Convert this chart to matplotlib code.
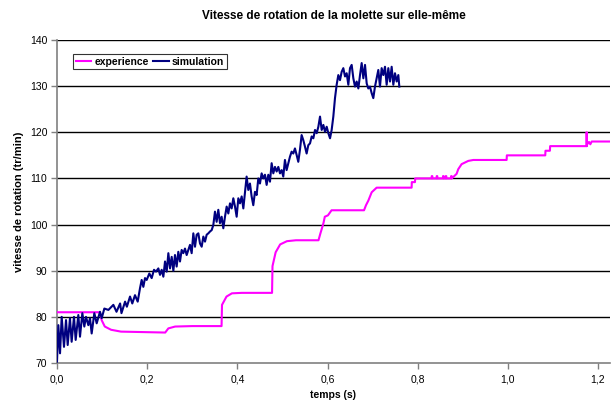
import matplotlib
matplotlib.use("Agg")
import matplotlib.pyplot as plt
from matplotlib.ticker import FixedLocator, FuncFormatter

plt.rcParams['font.family'] = ['Liberation Sans', 'DejaVu Sans']

title = "Vitesse de rotation de la molette sur elle-même"
xlabel = "temps (s)"
ylabel = "vitesse de rotation (tr/min)"
series_names = ["experience", "simulation"]

exp_t = [0.0, 0.095, 0.099, 0.106, 0.120, 0.142, 0.240, 0.247, 0.262, 0.300, 0.365,
         0.366, 0.376, 0.388, 0.410, 0.477, 0.478, 0.485, 0.495, 0.510, 0.530, 0.580,
         0.584, 0.591, 0.594, 0.601, 0.609, 0.681, 0.6854, 0.6906, 0.6943, 0.698, 0.709,
         0.7866, 0.7870, 0.794, 0.7945, 0.831, 0.8312, 0.8325, 0.8327, 0.842, 0.8422, 0.8435,
         0.8437, 0.856, 0.8562, 0.8575, 0.8577, 0.862, 0.8622, 0.8635, 0.8637, 0.874, 0.8742,
         0.8755, 0.8757, 0.8864, 0.890, 0.8975, 0.9123, 0.9234, 0.9973, 0.9978, 1.083,
         1.0835, 1.0933, 1.0938, 1.1746, 1.1748, 1.1752, 1.1760, 1.180, 1.183, 1.186, 1.2266]
exp_v = [81.0, 81.0, 79.3, 77.9, 77.2, 76.8, 76.6, 77.5, 77.9, 78.0, 78.0,
         82.6, 84.4, 85.1, 85.2, 85.2, 91.0, 94.0, 95.7, 96.4, 96.6, 96.6,
         98.0, 100.3, 101.7, 102.0, 103.1, 103.1, 104.2, 105.2, 106.1, 107.0, 108.0,
         108.0, 109.2, 109.2, 110.0, 110.0, 110.5, 110.5, 110.0, 110.0, 110.5, 110.5,
         110.0, 110.0, 110.5, 110.5, 110.0, 110.0, 110.5, 110.5, 110.0, 110.0, 110.5,
         110.5, 110.0, 111.0, 112.0, 113.1, 113.8, 114.0, 114.0, 115.0, 115.0,
         116.0, 116.0, 117.0, 117.0, 120.0, 117.0, 117.4, 117.9, 117.4, 118.0, 118.0]

sim_t = [0.0, 0.0030, 0.0067, 0.0104, 0.0155, 0.0200, 0.0237, 0.0288, 0.0325, 0.0377,
         0.0414, 0.0473, 0.0510, 0.0562, 0.0606, 0.0643, 0.0695, 0.0732, 0.0769, 0.0828,
         0.0880, 0.0954, 0.0991, 0.105, 0.114, 0.125, 0.132, 0.140, 0.143, 0.151,
         0.155, 0.162, 0.167, 0.173, 0.179,
         0.1841, 0.1878, 0.1915, 0.1952, 0.1989, 0.2048, 0.2100, 0.2152, 0.2196, 0.2248,
         0.2285, 0.2322, 0.2359, 0.2396, 0.2433, 0.2470, 0.2507, 0.2544, 0.2581, 0.2617,
         0.2654, 0.2691, 0.2728, 0.2765, 0.2802, 0.2839, 0.2876, 0.2950, 0.2987, 0.3024,
         0.3061, 0.3098, 0.3135, 0.3172, 0.3209, 0.3246, 0.3283, 0.3320, 0.3357, 0.3394,
         0.3431, 0.3467, 0.3504, 0.3541, 0.3578, 0.3615, 0.3652, 0.3689,
         0.3726, 0.3763, 0.3800, 0.3837, 0.3874, 0.3911, 0.3948, 0.3985, 0.4022, 0.4059,
         0.4096, 0.4133, 0.4170, 0.4206, 0.4243, 0.4280, 0.4317, 0.4354, 0.4391, 0.4428,
         0.4465, 0.4502, 0.4539, 0.4576, 0.4613, 0.4650, 0.4687, 0.4724, 0.4761, 0.4798,
         0.4835, 0.4872, 0.4909, 0.4946, 0.4983, 0.5019, 0.5056, 0.5093, 0.5130, 0.5167,
         0.5204, 0.5241, 0.5278, 0.5315, 0.5352, 0.5389, 0.5426, 0.5463, 0.5500, 0.5537,
         0.5574,
         0.5612, 0.5649, 0.5686, 0.5723, 0.5760, 0.5797, 0.5834, 0.5871, 0.5908, 0.5945,
         0.5982, 0.6019, 0.6056, 0.6092, 0.6129, 0.6166, 0.6203, 0.6240, 0.6277, 0.6314,
         0.6351, 0.6388, 0.6425, 0.6462, 0.6499, 0.6536, 0.6573, 0.6610, 0.6647, 0.6684,
         0.6721, 0.6758, 0.6795, 0.6832, 0.6869, 0.6905, 0.6942, 0.6979, 0.7016, 0.7053,
         0.7090, 0.7127, 0.7164, 0.7201, 0.7238, 0.7275, 0.7312, 0.7349, 0.7386, 0.7423,
         0.7460, 0.7497, 0.7534, 0.7571, 0.7593]
sim_v = [70.3, 78.2, 72.1, 80.0, 73.5, 79.3, 73.9, 79.7, 74.6, 80.0,
         75.0, 80.4, 75.7, 80.8, 77.9, 80.0, 78.2, 79.7, 76.4, 80.8,
         78.6, 81.1, 79.7, 81.8, 81.5, 82.6, 81.1, 82.9, 80.8, 83.3,
         82.2, 84.4, 82.9, 84.7, 83.3,
         86.2, 88.0, 86.5, 88.4, 88.0, 89.4, 88.4, 90.2, 89.8, 90.5,
         89.1, 90.2, 88.7, 92.0, 89.8, 93.8, 90.5, 93.0, 90.0, 93.4,
         90.9, 94.1, 92.0, 94.5, 93.8, 94.8, 93.4, 95.6, 93.8, 98.1,
         95.2, 97.8, 98.1, 95.9, 95.2, 97.4, 96.3, 97.8, 98.1, 98.5,
         98.8, 99.9, 102.8, 100.6, 103.2, 100.3, 101.7, 99.2,
         101.7, 103.9, 102.4, 104.6, 103.5, 105.7, 103.9, 101.7, 105.7, 104.6,
         106.1, 103.5, 107.1, 110.4, 107.5, 108.9, 106.1, 104.2, 107.1, 106.4,
         110.0, 108.9, 111.1, 110.0, 110.8, 108.6, 110.8, 109.3, 113.3, 111.1,
         112.5, 111.5, 112.5, 111.1, 111.8, 110.4, 114.0, 111.8, 113.3, 114.7,
         115.8, 115.4, 116.5, 115.1, 113.6, 116.2, 119.4, 118.3, 116.9, 115.4,
         117.2,
         117.6, 119.1, 118.7, 120.5, 119.8, 121.2, 123.4, 120.5, 121.6, 120.1,
         121.2, 119.8, 118.7, 120.5, 123.4, 127.4, 130.3, 132.4, 131.3, 133.1,
         133.9, 132.1, 132.8, 130.3, 133.9, 134.6, 131.7, 129.9, 131.0, 129.5,
         132.4, 135.0, 131.7, 134.6, 130.6, 129.5, 129.9, 128.5, 127.4, 129.9,
         131.7, 133.5, 129.9, 133.9, 132.4, 134.2, 130.3, 133.9, 131.0, 134.2,
         130.3, 132.8, 131.0, 132.4, 129.9]

yticks = [70, 80, 90, 100, 110, 120, 130, 140]
xticks = [0.0, 0.2, 0.4, 0.6, 0.8, 1.0, 1.2]

fig = plt.figure(figsize=(6.12, 4.01), dpi=100)
ax = fig.add_axes([57/612, 1-363/401, 553/612, 323/401])

for y in yticks[1:]:
    ax.axhline(y, color='black', lw=1.0, zorder=1)

ax.plot(exp_t, exp_v, color='#FF00FF', lw=1.5, label=series_names[0], zorder=3)
ax.plot(sim_t, sim_v, color='#000080', lw=1.5, label=series_names[1], zorder=4)

ax.set_xlim(0, 1.2266)
ax.set_ylim(70, 140)
ax.xaxis.set_major_locator(FixedLocator(xticks))
ax.yaxis.set_major_locator(FixedLocator(yticks))
ax.xaxis.set_major_formatter(FuncFormatter(lambda v, p: f"{v:.1f}".replace('.', ',')))
ax.yaxis.set_major_formatter(FuncFormatter(lambda v, p: f"{int(v)}"))

for s in ['top', 'right']:
    ax.spines[s].set_visible(False)
for s in ['left', 'bottom']:
    ax.spines[s].set_color('#808080')
    ax.spines[s].set_linewidth(1.2)
ax.tick_params(axis='both', colors='#808080', labelcolor='black', labelsize=7.5, length=4, width=1)
ax.tick_params(axis='x', pad=4)
ax.tick_params(axis='y', pad=3)

ax.set_title(title, fontsize=8.5, fontweight='bold', pad=15)
ax.set_xlabel(xlabel, fontsize=7.5, fontweight='bold', labelpad=4)
ax.set_ylabel(ylabel, fontsize=8, fontweight='bold', labelpad=4)

leg = ax.legend(loc='upper left', bbox_to_anchor=((73-57)/553, (363-54)/323), ncol=2,
                frameon=True, fancybox=False, fontsize=7.5, handlelength=1.5,
                handletextpad=0.3, columnspacing=0.4, borderpad=0.25, borderaxespad=0)
leg.get_frame().set_edgecolor('black')
leg.get_frame().set_linewidth(0.8)
for t in leg.get_texts():
    t.set_fontweight('bold')

fig.savefig("out.png", dpi=100)
